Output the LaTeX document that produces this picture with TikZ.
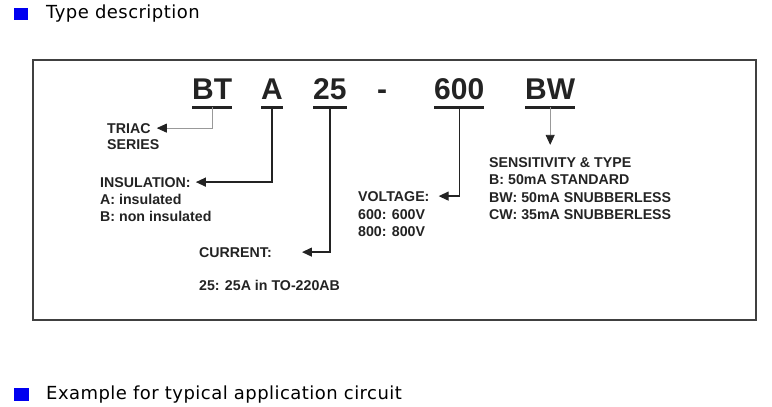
\documentclass[tikz,border=0pt]{standalone}
\usepackage{fontspec}
\usetikzlibrary{arrows.meta,calc}
\newfontfamily\headfont[LetterSpace=2.5]{DejaVu Sans}
\newfontfamily\codefont{Liberation Sans}
\definecolor{bullet}{RGB}{0,0,240}
\definecolor{ink}{RGB}{35,35,35}
\tikzset{
    head/.style={anchor=base west,inner sep=0,font=\headfont\fontsize{18}{20}\selectfont},
    code/.style={anchor=base west,inner xsep=0,inner ysep=8pt,text=ink,
        font=\codefont\bfseries\fontsize{30}{32}\selectfont},
    lbl/.style={anchor=base west,inner sep=0,text=ink,
        font=\codefont\bfseries\fontsize{14.2}{16}\selectfont},
    uline/.style={ink,line width=3pt},
    conn/.style={ink,line width=1.3pt,-{Triangle[length=10pt,width=9pt]}},
    lconn/.style={black!40,line width=0.8pt,-{Triangle[length=10pt,width=9pt,color=ink]}}
}
\begin{document}
\begin{tikzpicture}[x=1pt,y=-1pt]
    \useasboundingbox (0,0) rectangle (772,407);
    % headings
    \fill[bullet] (14,8) rectangle (28,20);
    \node[head] (typehead) at (46,18) {Type description};
    \fill[bullet] (14,388) rectangle (29,401);
    \node[head] (apphead) at (46,399) {Example for typical application circuit};
    % frame
    \draw[black!75,line width=1.5pt] (33,60) rectangle (756,320);
    % part number
    \node[code] (bt) at (192,99) {BT};
    \node[code] (a) at (261,99) {A};
    \node[code] (cur) at (313,99) {25};
    \node[code] (dash) at (377,99) {-};
    \node[code] (volt) at (434,99) {600};
    \node[code] (bw) at (525,99) {BW};
    \foreach \n in {bt,a,cur,volt,bw}
        \draw[uline] (\n.south west) -- (\n.south east);
    % meanings
    \node[lbl] (triac) at (107,133) {TRIAC};
    \node[lbl] (series) at (107,149) {SERIES};
    \node[lbl] (insul) at (100,187) {INSULATION:};
    \node[lbl] (insa) at (100,204) {A: insulated};
    \node[lbl] (insb) at (100,221) {B: non insulated};
    \node[lbl] (current) at (199,257) {CURRENT:};
    \node[lbl] (curval) at (199,290) {25: 25A in TO-220AB};
    \node[lbl] (voltage) at (358,201) {VOLTAGE:};
    \node[lbl] (v600) at (358,219) {600: 600V};
    \node[lbl] (v800) at (358,236) {800: 800V};
    \node[lbl] (sens) at (489,167) {SENSITIVITY \& TYPE};
    \node[lbl] (sensb) at (489,184) {B: 50mA STANDARD};
    \node[lbl] (sensbw) at (489,202) {BW: 50mA SNUBBERLESS};
    \node[lbl] (senscw) at (489,219) {CW: 35mA SNUBBERLESS};
    % connectors
    \draw[lconn] (bt.south) |- ([xshift=6pt]triac.east);
    \draw[conn] (a.south) |- ([xshift=5pt]insul.east);
    \draw[conn] (cur.south) |- ([xshift=30pt]current.east);
    \draw[conn] (volt.south) |- ([xshift=9pt]voltage.east);
    \draw[lconn] (bw.south) -- ([yshift=12pt]bw.south |- sens.north);
\end{tikzpicture}
\end{document}
